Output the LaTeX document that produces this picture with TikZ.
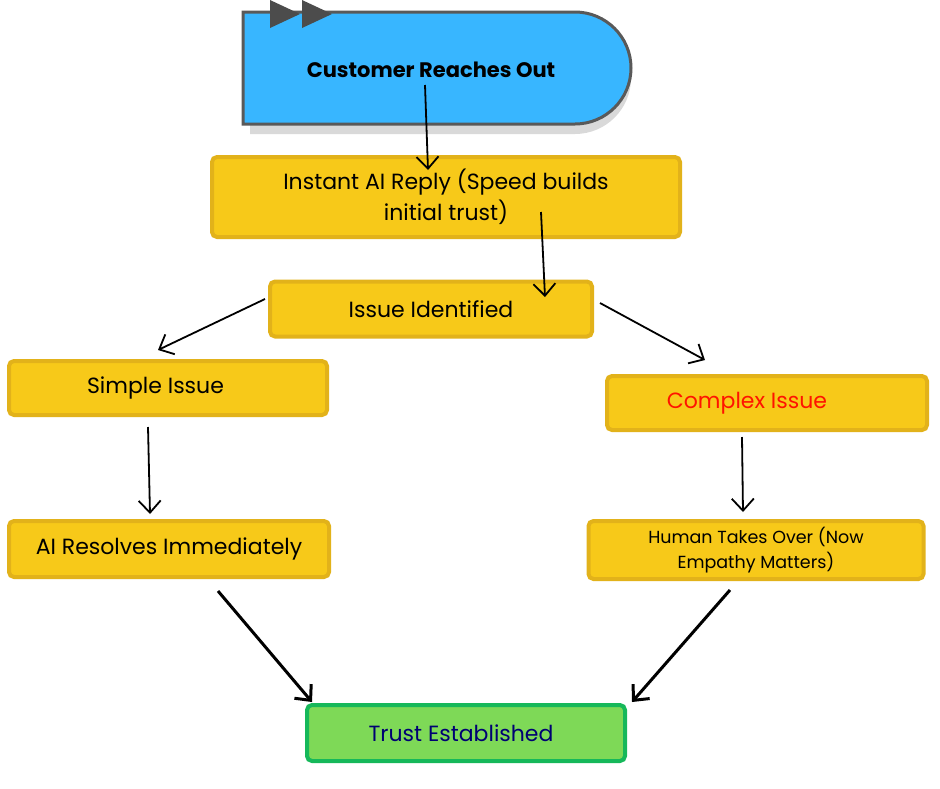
\documentclass[tikz,border=0pt]{standalone}
\usepackage{fontspec}
\setmainfont{Poppins}
\usetikzlibrary{arrows.meta}
\definecolor{ybox}{HTML}{F7C919}
\definecolor{yedge}{HTML}{E2B21A}
\definecolor{bbox}{HTML}{38B6FF}
\definecolor{gbox}{HTML}{7ED957}
\definecolor{gedge}{HTML}{16B85A}
\begin{document}
\begin{tikzpicture}[x=1pt,y=-1pt,
 yb/.style={draw=yedge,line width=4pt,fill=ybox,rounded corners=5pt,inner sep=0,align=center,font=\fontsize{22}{31}\selectfont},
 arr/.style={-{Straight Barb[length=12pt,width=22pt]},line width=1.8pt,black}]
\useasboundingbox (0,0) rectangle (940,788);
% top shape
\fill[gray!30] (250,22) -- (575,22) arc[start angle=-90,end angle=90,radius=56] -- (250,134) -- cycle;
\draw[line width=3pt,draw=black!65,fill=bbox] (243,12) -- (575,12) arc[start angle=-90,end angle=90,radius=56] -- (243,124) -- cycle;
\fill[bbox] (247,24) -- (575,24) arc[start angle=-90,end angle=90,radius=47] -- (247,118) -- cycle;
\fill[black!70] (270,0) -- (270,28) -- (300,14) -- cycle (302,0) -- (302,28) -- (332,14) -- cycle;
\node[font=\fontsize{21}{24}\selectfont\bfseries] (cust) at (431,70) {Customer Reaches Out};
% boxes
\node[yb,minimum width=468,minimum height=80] (ai) at (446,197) {Instant AI Reply (Speed builds\\initial trust)};
\node[yb,minimum width=322,minimum height=55] (id) at (431,309) {Issue Identified};
\node[yb,minimum width=318,minimum height=54] (si) at (168,388) {\hspace*{-25pt}Simple Issue};
\node[yb,minimum width=320,minimum height=54] (ci) at (767,403) {\hspace*{-40pt}\color{red!85!orange}Complex Issue};
\node[yb,minimum width=320,minimum height=56] (ar) at (169,549) {AI Resolves Immediately};
\node[yb,minimum width=335,minimum height=58,font=\fontsize{17.5}{25}\selectfont] (hu) at (756,550) {Human Takes Over (Now\\Empathy Matters)};
\node[draw=gedge,line width=4pt,fill=gbox,rounded corners=5pt,minimum width=318,minimum height=56,font=\fontsize{22}{26}\selectfont,text=blue!45!black] (tr) at (466,733) {\hspace*{-10pt}Trust Established};
% connectors
\coordinate (c1) at (425,85); \coordinate (c2) at (428,170);
\coordinate (c3) at (541,212); \coordinate (c4) at (545,297);
\draw[arr] (c1) -- (c2);
\draw[arr] (c3) -- (c4);
\draw[arr] (id.west) ++(-3,-10) -- (158,350);
\draw[arr] (id.east) ++(6,-6) -- (705,360);
\draw[arr] (si.south) ++(-20,10) -- (150,514);
\draw[arr] (ci.south) ++(-25,5) -- (743,512);
\draw[arr,line width=3pt] (ar.south) ++(49,12) -- (312,702);
\draw[arr,line width=3pt] (hu.south) ++(-26,9) -- (632,702);
\end{tikzpicture}
\end{document}
